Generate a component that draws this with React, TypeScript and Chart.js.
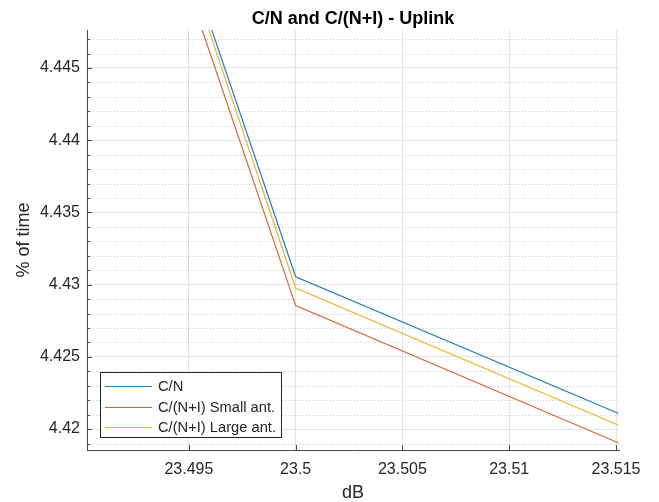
import React, { useEffect, useRef } from "react";
import { Chart, registerables } from "chart.js";

Chart.register(...registerables);

// Link budget margins: time percentage against received level (dB)
const DB = [23.495, 23.5, 23.5151];
const CN = [4.4523, 4.43055, 4.42109];
const CNI_SMALL = [4.45035, 4.42855, 4.41905];
const CNI_LARGE = [4.45175, 4.42977, 4.42028];

const SERIES_NAMES = ["C/N", "C/(N+I) Small ant.", "C/(N+I) Large ant."];
const SERIES_COLORS = ["#1f7cc0", "#d0683c", "#eab52c"];

const X_TICKS = [23.495, 23.5, 23.505, 23.51, 23.515];
const Y_TICKS = [4.42, 4.425, 4.43, 4.435, 4.44, 4.445];
const Y_MINOR_TICKS = [
  4.419, 4.421, 4.422, 4.423, 4.424, 4.426, 4.427, 4.428, 4.429, 4.431, 4.432,
  4.433, 4.434, 4.436, 4.437, 4.438, 4.439, 4.441, 4.442, 4.443, 4.444, 4.446,
  4.447,
];
const X_RANGE = [23.49023, 23.51514];
const Y_RANGE = [4.41855, 4.44763];

const TITLE = "C/N and C/(N+I) - Uplink";
const X_LABEL = "dB";
const Y_LABEL = "% of time";

const FONT = "'Liberation Sans', Arial, Helvetica, sans-serif";
const TEXT_COLOR = "#262626";
const AXIS_COLOR = "#4a4a4a";

const decorPlugin = {
  id: "decor",
  beforeDatasetsDraw(chart: any) {
    const { ctx, chartArea: a, scales } = chart;
    const y = scales.y;
    ctx.save();
    ctx.strokeStyle = "#cdcdcd";
    ctx.lineWidth = 1;
    ctx.setLineDash([1, 2]);
    for (const v of Y_MINOR_TICKS) {
      const py = Math.round(y.getPixelForValue(v)) + 0.5;
      ctx.beginPath();
      ctx.moveTo(a.left, py);
      ctx.lineTo(a.right, py);
      ctx.stroke();
    }
    ctx.restore();
  },
  afterDraw(chart: any) {
    const { ctx, chartArea: a, scales } = chart;
    const x = scales.x;
    const y = scales.y;
    ctx.save();

    // inward tick marks
    ctx.strokeStyle = AXIS_COLOR;
    ctx.lineWidth = 1;
    ctx.beginPath();
    for (const v of Y_TICKS) {
      const py = Math.round(y.getPixelForValue(v)) + 0.5;
      ctx.moveTo(a.left, py);
      ctx.lineTo(a.left + 5, py);
    }
    for (const v of Y_MINOR_TICKS) {
      const py = Math.round(y.getPixelForValue(v)) + 0.5;
      ctx.moveTo(a.left, py);
      ctx.lineTo(a.left + 3, py);
    }
    for (const v of X_TICKS) {
      const px = Math.round(x.getPixelForValue(v)) + 0.5;
      ctx.moveTo(px, a.bottom);
      ctx.lineTo(px, a.bottom - 5);
    }
    ctx.stroke();

    // title and axis labels
    ctx.fillStyle = "#000";
    ctx.textAlign = "center";
    ctx.textBaseline = "alphabetic";
    ctx.font = `bold 18px ${FONT}`;
    ctx.fillText(TITLE, (a.left + a.right) / 2, 24);

    ctx.fillStyle = TEXT_COLOR;
    ctx.font = `18px ${FONT}`;
    ctx.fillText(X_LABEL, (a.left + a.right) / 2, 498);

    ctx.save();
    ctx.translate(29, (a.top + a.bottom) / 2);
    ctx.rotate(-Math.PI / 2);
    ctx.fillText(Y_LABEL, 0, 0);
    ctx.restore();

    // legend box
    const bx = 100;
    const by = 372;
    const bw = 181;
    const bh = 65;
    ctx.fillStyle = "#fff";
    ctx.fillRect(bx, by, bw, bh);
    ctx.strokeStyle = "#262626";
    ctx.lineWidth = 1;
    ctx.strokeRect(bx + 0.5, by + 0.5, bw, bh);
    ctx.font = `14.7px ${FONT}`;
    ctx.textAlign = "left";
    ctx.textBaseline = "middle";
    chart.data.datasets.forEach((ds: any, i: number) => {
      const ry = by + 14 + i * 20.5;
      ctx.strokeStyle = ds.borderColor;
      ctx.lineWidth = 1.2;
      ctx.beginPath();
      ctx.moveTo(bx + 5, Math.round(ry) + 0.5);
      ctx.lineTo(bx + 52, Math.round(ry) + 0.5);
      ctx.stroke();
      ctx.fillStyle = TEXT_COLOR;
      ctx.fillText(ds.label, bx + 58, ry + 1);
    });

    ctx.restore();
  },
};

export default function App() {
  const canvasRef = useRef<HTMLCanvasElement | null>(null);

  useEffect(() => {
    const canvas = canvasRef.current;
    if (!canvas) return;
    const seriesValues = [CN, CNI_SMALL, CNI_LARGE];
    const chart = new Chart(canvas, {
      type: "line",
      data: {
        datasets: seriesValues.map((vals, i) => ({
          label: SERIES_NAMES[i],
          data: vals.map((v, j) => ({ x: DB[j], y: v })),
          borderColor: SERIES_COLORS[i],
          backgroundColor: SERIES_COLORS[i],
          borderWidth: 1.2,
          pointRadius: 0,
          tension: 0,
          fill: false,
        })),
      },
      options: {
        animation: false,
        responsive: false,
        devicePixelRatio: 1,
        layout: { padding: { left: 0, top: 30, right: 40, bottom: 0 } },
        plugins: {
          legend: { display: false },
          title: { display: false },
          tooltip: { enabled: false },
        },
        scales: {
          x: {
            type: "linear",
            min: X_RANGE[0],
            max: X_RANGE[1],
            afterBuildTicks: (s: any) => {
              s.ticks = X_TICKS.map((v) => ({ value: v }));
            },
            afterFit: (s: any) => {
              s.height = 52;
            },
            ticks: {
              autoSkip: false,
              maxRotation: 0,
              padding: 10,
              color: TEXT_COLOR,
              font: { family: FONT, size: 16 },
              callback: (v: any) => String(v),
            },
            grid: { color: "#e3e3e3", drawTicks: false, lineWidth: 1 },
            border: { display: true, color: AXIS_COLOR, width: 1 },
          },
          y: {
            type: "linear",
            min: Y_RANGE[0],
            max: Y_RANGE[1],
            afterBuildTicks: (s: any) => {
              s.ticks = Y_TICKS.map((v) => ({ value: v }));
            },
            afterFit: (s: any) => {
              s.width = 87;
            },
            ticks: {
              autoSkip: false,
              padding: 7,
              color: TEXT_COLOR,
              font: { family: FONT, size: 16 },
              callback: (v: any) => String(v),
            },
            grid: { color: "#e3e3e3", drawTicks: false, lineWidth: 1 },
            border: { display: true, color: AXIS_COLOR, width: 1 },
          },
        },
      },
      plugins: [decorPlugin],
    });
    return () => chart.destroy();
  }, []);

  return (
    <div
      style={{
        position: "absolute",
        left: 0,
        top: 0,
        width: 659,
        height: 502,
        background: "#fff",
      }}
    >
      <canvas
        ref={canvasRef}
        width={659}
        height={502}
        style={{ display: "block", width: 659, height: 502 }}
      />
    </div>
  );
}
